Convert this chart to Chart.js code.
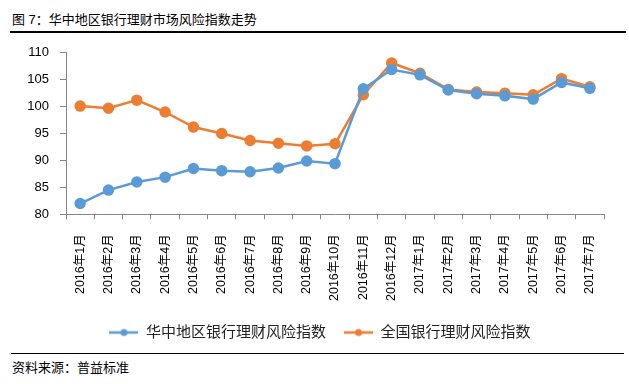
<!DOCTYPE html>
<html>
<head>
<meta charset="utf-8">
<script src="https://cdn.jsdelivr.net/npm/chart.js@4"></script>
<style>
    body { margin: 0; background: #fff; font-family: "Liberation Sans", "Noto Sans CJK SC", sans-serif; }
    #pagina { position: relative; width: 629px; height: 384px; overflow: hidden; }
    #titulo { position: absolute; left: 12px; top: 9px; font-size: 13px; color: #000; }
    #linha1 { position: absolute; left: 10px; top: 31px; width: 616px; border-top: 2px solid #000; }
    #caixa { position: absolute; left: 0; top: 34px; width: 629px; height: 316px; }
    #linha2 { position: absolute; left: 11px; top: 353px; width: 613px; border-top: 1px solid #000; }
    #fonte { position: absolute; left: 12px; top: 357px; font-size: 13px; color: #000; }
</style>
</head>
<body>
<div id="pagina">
    <div id="titulo">图 7：华中地区银行理财市场风险指数走势</div>
    <div id="linha1"></div>
    <div id="caixa"><canvas id="grafico"></canvas></div>
    <div id="linha2"></div>
    <div id="fonte">资料来源：普益标准</div>
</div>
<script>
const meses = ['2016年1月', '2016年2月', '2016年3月', '2016年4月', '2016年5月', '2016年6月', '2016年7月', '2016年8月', '2016年9月', '2016年10月',
    '2016年11月', '2016年12月', '2017年1月', '2017年2月', '2017年3月', '2017年4月', '2017年5月', '2017年6月', '2017年7月'];
const indiceHuazhong = [82.0, 84.5, 86.0, 86.9, 88.5, 88.1, 87.9, 88.6, 89.9, 89.4, 103.3, 106.9, 105.9, 103.1, 102.4, 102.0, 101.4, 104.5, 103.4];
const indiceNacional = [100.1, 99.7, 101.2, 99.0, 96.2, 95.0, 93.7, 93.2, 92.7, 93.1, 102.2, 108.1, 106.2, 103.2, 102.7, 102.5, 102.2, 105.2, 103.7];
const nomesSeries = ['华中地区银行理财风险指数', '全国银行理财风险指数'];
const cores = ['#5B9BD5', '#ED7D31'];

const fonteTexto = '"Liberation Sans", "Noto Sans CJK SC", sans-serif';

// icone da legenda: linha com bolinha no meio
function iconeLegenda(cor) {
    const c = document.createElement('canvas');
    c.width = 29;
    c.height = 10;
    const ctx = c.getContext('2d');
    ctx.strokeStyle = cor;
    ctx.lineWidth = 2.5;
    ctx.beginPath();
    ctx.moveTo(0, 5);
    ctx.lineTo(29, 5);
    ctx.stroke();
    ctx.fillStyle = cor;
    ctx.beginPath();
    ctx.arc(14.5, 5, 3.5, 0, Math.PI * 2);
    ctx.fill();
    return c;
}

// empurra a legenda um pouco para a direita, como no original
const moverLegenda = {
    id: 'moverLegenda',
    afterLayout(chart) {
        chart.legend.left += 18;
        chart.legend.right += 18;
    }
};

const grafico = document.getElementById('grafico');

new Chart(grafico, {
    type: 'line',
    data: {
        labels: meses,
        datasets: [{
            label: nomesSeries[0],
            data: indiceHuazhong,
            borderColor: cores[0],
            backgroundColor: cores[0],
            borderWidth: 2.5,
            pointRadius: 4.5,
            tension: 0
        }, {
            label: nomesSeries[1],
            data: indiceNacional,
            borderColor: cores[1],
            backgroundColor: cores[1],
            borderWidth: 2.5,
            pointRadius: 4.5,
            tension: 0
        }]
    },
    plugins: [moverLegenda],
    options: {
        responsive: true,
        maintainAspectRatio: false,
        animation: false,
        layout: {
            padding: { top: 16, right: 25, left: 0, bottom: 0 }
        },
        plugins: {
            legend: {
                position: 'bottom',
                labels: {
                    usePointStyle: true,
                    pointStyleWidth: 29,
                    color: '#222',
                    font: { family: fonteTexto, size: 15 },
                    padding: 18,
                    generateLabels: (chart) => {
                        return chart.data.datasets.map((ds, i) => ({
                            text: ds.label,
                            fillStyle: ds.borderColor,
                            strokeStyle: ds.borderColor,
                            pointStyle: iconeLegenda(ds.borderColor),
                            fontColor: '#222',
                            datasetIndex: i,
                            hidden: false
                        }));
                    }
                }
            },
            tooltip: { enabled: false }
        },
        scales: {
            x: {
                offset: true,
                afterFit: (escala) => { escala.height -= 9; },
                grid: { drawOnChartArea: false, drawTicks: true, tickLength: 5, color: '#868686', offset: true },
                border: { color: '#868686' },
                ticks: {
                    minRotation: 90,
                    maxRotation: 90,
                    autoSkip: false,
                    color: '#000',
                    font: { family: fonteTexto, size: 12.5 },
                    padding: 15
                }
            },
            y: {
                min: 80,
                max: 110,
                afterFit: (escala) => { escala.width = 66; },
                grid: { drawOnChartArea: false, drawTicks: true, tickLength: 6, color: '#868686' },
                border: { color: '#868686' },
                ticks: {
                    stepSize: 5,
                    color: '#000',
                    font: { family: fonteTexto, size: 13 },
                    padding: 11
                }
            }
        }
    }
});
</script>
</body>
</html>
